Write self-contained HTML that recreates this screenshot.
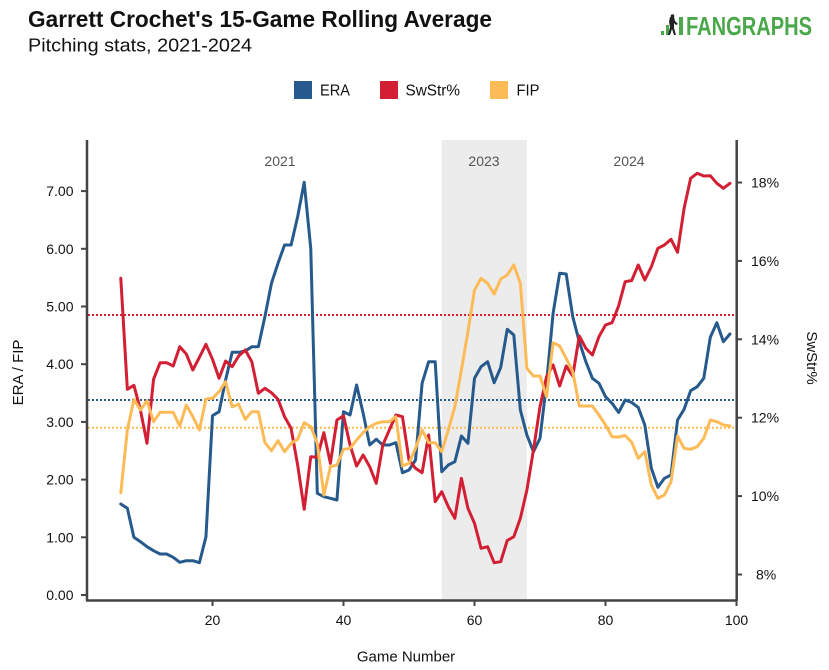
<!DOCTYPE html>
<html>
<head>
<meta charset="utf-8">
<style>
  html, body { margin:0; padding:0; background:#fff; }
  svg { display:block; }
  text { font-family: "Liberation Sans", "DejaVu Sans", sans-serif; }
</style>
</head>
<body>
<svg width="829" height="670" viewBox="0 0 829 670" xmlns="http://www.w3.org/2000/svg">
  <rect x="0" y="0" width="829" height="670" fill="#ffffff"/>

  <!-- Title -->
  <text x="28" y="27" font-size="23" font-weight="bold" fill="#111" textLength="464" lengthAdjust="spacingAndGlyphs">Garrett Crochet's 15-Game Rolling Average</text>
  <text x="28" y="51.5" font-size="18" fill="#111" textLength="224" lengthAdjust="spacingAndGlyphs">Pitching stats, 2021-2024</text>

  <!-- Logo -->
  <g>
    <rect x="661" y="31" width="3" height="4" fill="#4aa84a"/>
    <rect x="666" y="25" width="3" height="10" fill="#4aa84a"/>
    <rect x="679" y="17" width="4" height="18" fill="#4aa84a"/>
    <path d="M670 17 l4 0 l1 4 l3 3 l-2 1 l-2 -2 l0 5 l2 7 l-2 0 l-2 -6 l-2 6 l-2 0 l2 -8 l-1 -5 z" fill="#222"/>
    <circle cx="672.5" cy="16" r="1.8" fill="#222"/>
    <text x="686" y="35" font-size="26" font-weight="bold" fill="#4aa84a" textLength="126" lengthAdjust="spacingAndGlyphs">FANGRAPHS</text>
  </g>

  <!-- Legend -->
  <rect x="294" y="81" width="18" height="18" fill="#265a8c"/>
  <text x="320" y="95.5" font-size="16" fill="#111" textLength="30" lengthAdjust="spacingAndGlyphs">ERA</text>
  <rect x="380" y="81" width="18" height="18" fill="#d21f34"/>
  <text x="405.5" y="95.5" font-size="16" fill="#111" textLength="54.5" lengthAdjust="spacingAndGlyphs">SwStr%</text>
  <rect x="490" y="81" width="18" height="18" fill="#fdbb57"/>
  <text x="516.5" y="95.5" font-size="16" fill="#111" textLength="23" lengthAdjust="spacingAndGlyphs">FIP</text>

  <!-- Shaded 2023 region -->
  <rect x="441.75" y="140" width="85.15" height="460.5" fill="#ececec"/>

  <!-- Year labels -->
  <text x="280" y="166" font-size="14" fill="#555" text-anchor="middle">2021</text>
  <text x="484" y="166" font-size="14" fill="#555" text-anchor="middle">2023</text>
  <text x="629" y="166" font-size="14" fill="#555" text-anchor="middle">2024</text>

  <!-- Reference dotted lines -->
  <line x1="88" y1="315" x2="736" y2="315" stroke="#d21f34" stroke-width="2" stroke-dasharray="2,2"/>
  <line x1="88" y1="400" x2="736" y2="400" stroke="#265a8c" stroke-width="2" stroke-dasharray="2,2"/>
  <line x1="88" y1="427.7" x2="736" y2="427.7" stroke="#fdbb57" stroke-width="2" stroke-dasharray="2,2"/>

  <!-- ERA -->
  <polyline fill="none" stroke="#265a8c" stroke-width="3" stroke-linejoin="round" stroke-linecap="round"
    points="120.8,504 127.35,508.3 133.9,537.3 140.45,541.7 147,546.7 153.55,550.7 160.1,554 166.65,554 173.2,557.3 179.75,562.3 186.3,560.7 192.85,560.7 199.4,562.7 205.95,536.7 212.5,415.7 219.05,411.7 225.6,380 232.15,352.3 238.7,352.3 245.25,351 251.8,346.7 258.35,346.7 264.9,316.7 271.45,283.3 278,263.3 284.55,245 291.1,245 297.65,216.7 304.2,182.3 310.75,248.3 317.3,493.3 323.85,496.7 330.4,498.3 336.95,500 343.5,411.7 350.05,415 356.6,385 363.15,413.3 369.7,445 376.25,439.3 382.8,445 389.35,445 395.9,442.7 402.45,472.7 409,470 415.55,460 422.1,383.3 428.65,361.7 435.2,361.7 441.75,471.7 448.3,465 454.85,461.7 461.4,436 467.95,443.3 474.5,378.3 481.05,366.7 487.6,361.7 494.15,382.7 500.7,367.5 507.25,329.3 513.8,335 520.35,410 526.9,435 533.45,451.7 540,438.3 546.55,383.3 553.1,313.3 559.65,273.3 566.2,274 572.75,316.7 579.3,341.7 585.85,361.7 592.4,378.3 598.95,383.3 605.5,396.7 612.05,403.3 618.6,412.5 625.15,400 631.7,402.5 638.25,407.5 644.8,425 651.35,468.3 657.9,487.3 664.45,478.3 671,475 677.55,420 684.1,409.3 690.65,390.7 697.2,386.7 703.75,378.3 710.3,337.3 716.85,322.7 723.4,341.7 729.95,334"/>

  <!-- SwStr% -->
  <polyline fill="none" stroke="#d21f34" stroke-width="3" stroke-linejoin="round" stroke-linecap="round"
    points="120.8,278.3 127.35,389.3 133.9,385.3 140.45,410 147,443.3 153.55,379.3 160.1,362.7 166.65,362.7 173.2,366 179.75,346.7 186.3,354 192.85,370 199.4,357.3 205.95,344.3 212.5,359.3 219.05,378.3 225.6,361 232.15,366.7 238.7,356 245.25,350 251.8,361.7 258.35,393.3 264.9,388.3 271.45,392.7 278,399.3 284.55,416.7 291.1,428.3 297.65,465 304.2,509.3 310.75,456.7 317.3,457.3 323.85,432.7 330.4,463.3 336.95,420 343.5,415.7 350.05,445 356.6,466 363.15,455 369.7,466.7 376.25,483.3 382.8,445 389.35,430 395.9,415 402.45,416.7 409,460 415.55,468.3 422.1,472.7 428.65,435 435.2,501.7 441.75,491.7 448.3,506.7 454.85,518.3 461.4,478.3 467.95,508.3 474.5,523.3 481.05,548.3 487.6,546.7 494.15,562.7 500.7,561.7 507.25,540.5 513.8,536.7 520.35,518.3 526.9,490 533.45,450 540,406.7 546.55,376.7 553.1,365 559.65,386 566.2,366 572.75,376 579.3,336 585.85,348.3 592.4,355 598.95,336.7 605.5,325 612.05,322.7 618.6,306 625.15,281.7 631.7,280.5 638.25,265 644.8,280 651.35,266.7 657.9,248.3 664.45,245 671,239.3 677.55,252.3 684.1,208.3 690.65,178.3 697.2,173.3 703.75,176 710.3,175.7 716.85,183.3 723.4,188.3 729.95,183.3"/>

  <!-- FIP -->
  <polyline fill="none" stroke="#fdbb57" stroke-width="3" stroke-linejoin="round" stroke-linecap="round"
    points="120.8,492.7 127.35,430 133.9,399.3 140.45,410 147,400.7 153.55,421.7 160.1,412.3 166.65,412.3 173.2,412.3 179.75,426 186.3,405 192.85,416.7 199.4,430 205.95,399 212.5,398.3 219.05,391.7 225.6,381.7 232.15,406.7 238.7,404.3 245.25,419.3 251.8,411.7 258.35,411.7 264.9,442.7 271.45,450.7 278,440.7 284.55,451.7 291.1,443.3 297.65,439.3 304.2,422.7 310.75,426.7 317.3,443.3 323.85,495 330.4,466.7 336.95,465 343.5,449.3 350.05,448.3 356.6,440 363.15,432.7 369.7,426.7 376.25,423.3 382.8,421.7 389.35,421.7 395.9,416.7 402.45,466 409,463.3 415.55,448.3 422.1,430 428.65,442.7 435.2,442.7 441.75,451.7 448.3,430 454.85,406.7 461.4,370 467.95,331.7 474.5,290 481.05,278.3 487.6,283.3 494.15,294 500.7,279 507.25,275 513.8,265 520.35,283.3 526.9,368.3 533.45,376 540,376 546.55,396.7 553.1,342.7 559.65,346 566.2,358.3 572.75,371.7 579.3,406 585.85,406 592.4,406 598.95,415 605.5,425 612.05,436.7 618.6,437 625.15,435.5 631.7,442.2 638.25,458.3 644.8,451.7 651.35,485 657.9,498.3 664.45,495 671,481.7 677.55,436 684.1,448.3 690.65,449.3 697.2,446.7 703.75,438.3 710.3,420 716.85,421.7 723.4,425 729.95,426"/>

  <!-- Axes -->
  <g stroke="#444" stroke-width="2.5" fill="none">
    <line x1="87" y1="140" x2="87" y2="601"/>
    <line x1="736.7" y1="140" x2="736.7" y2="601"/>
    <line x1="86" y1="600.5" x2="737.5" y2="600.5"/>
  </g>
  <!-- Left ticks -->
  <g stroke="#444" stroke-width="2">
    <line x1="81" y1="595" x2="87" y2="595"/>
    <line x1="81" y1="537.3" x2="87" y2="537.3"/>
    <line x1="81" y1="479.6" x2="87" y2="479.6"/>
    <line x1="81" y1="421.9" x2="87" y2="421.9"/>
    <line x1="81" y1="364.2" x2="87" y2="364.2"/>
    <line x1="81" y1="306.5" x2="87" y2="306.5"/>
    <line x1="81" y1="248.8" x2="87" y2="248.8"/>
    <line x1="81" y1="191.1" x2="87" y2="191.1"/>
  </g>
  <!-- Bottom ticks -->
  <g stroke="#444" stroke-width="2">
    <line x1="212.5" y1="601" x2="212.5" y2="606"/>
    <line x1="343.5" y1="601" x2="343.5" y2="606"/>
    <line x1="474.5" y1="601" x2="474.5" y2="606"/>
    <line x1="605.5" y1="601" x2="605.5" y2="606"/>
    <line x1="736.5" y1="601" x2="736.5" y2="606"/>
  </g>
  <!-- Right ticks -->
  <g stroke="#444" stroke-width="2">
    <line x1="737" y1="182.5" x2="742" y2="182.5"/>
    <line x1="737" y1="260.9" x2="742" y2="260.9"/>
    <line x1="737" y1="339.3" x2="742" y2="339.3"/>
    <line x1="737" y1="417.7" x2="742" y2="417.7"/>
    <line x1="737" y1="496.1" x2="742" y2="496.1"/>
    <line x1="737" y1="574.5" x2="742" y2="574.5"/>
  </g>

  <!-- Left tick labels -->
  <g font-size="14" fill="#111" text-anchor="end">
    <text x="73.5" y="600">0.00</text>
    <text x="73.5" y="542.3">1.00</text>
    <text x="73.5" y="484.6">2.00</text>
    <text x="73.5" y="426.9">3.00</text>
    <text x="73.5" y="369.2">4.00</text>
    <text x="73.5" y="311.5">5.00</text>
    <text x="73.5" y="253.8">6.00</text>
    <text x="73.5" y="196.1">7.00</text>
  </g>
  <!-- Right tick labels -->
  <g font-size="14" fill="#111">
    <text x="751" y="187.5">18%</text>
    <text x="751" y="265.9">16%</text>
    <text x="751" y="344.3">14%</text>
    <text x="751" y="422.7">12%</text>
    <text x="751" y="501.1">10%</text>
    <text x="756" y="579.5">8%</text>
  </g>
  <!-- Bottom tick labels -->
  <g font-size="14" fill="#111" text-anchor="middle">
    <text x="212.5" y="625">20</text>
    <text x="343.5" y="625">40</text>
    <text x="474.5" y="625">60</text>
    <text x="605.5" y="625">80</text>
    <text x="736.5" y="625">100</text>
  </g>

  <!-- Axis titles -->
  <text x="406" y="661.5" font-size="15" fill="#111" text-anchor="middle">Game Number</text>
  <text transform="translate(23,372.5) rotate(-90)" font-size="15" fill="#111" text-anchor="middle">ERA / FIP</text>
  <text transform="translate(807,358) rotate(90)" font-size="15" fill="#111" text-anchor="middle">SwStr%</text>
</svg>
</body>
</html>
